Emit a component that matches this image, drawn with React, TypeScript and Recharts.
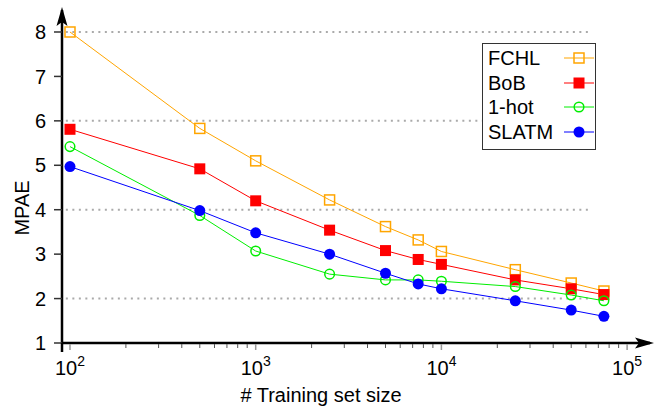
import React from 'react';
import {
  Label,
  Legend,
  Line,
  LineChart,
  ReferenceLine,
  XAxis,
  YAxis
} from 'recharts';

// training set sizes
const sizes = [100, 500, 1000, 2500, 5000, 7500, 10000, 25000, 50000, 75000];

// MPAE per representation
const fchl = [8.0, 5.83, 5.1, 4.22, 3.62, 3.32, 3.06, 2.65, 2.35, 2.17];
const bob = [5.81, 4.92, 4.2, 3.54, 3.08, 2.88, 2.77, 2.42, 2.22, 2.09];
const oneHot = [5.42, 3.87, 3.07, 2.55, 2.42, 2.42, 2.39, 2.27, 2.08, 1.95];
const slatm = [4.97, 3.98, 3.48, 3.0, 2.57, 2.33, 2.22, 1.95, 1.74, 1.6];

const majorTicks = [100, 1000, 10000, 100000];
const minorTicks = [2, 3, 4, 5, 6, 7, 8, 9].flatMap((m) => [100 * m, 1000 * m, 10000 * m]);
const xTicks = [...majorTicks, ...minorTicks].sort((a, b) => a - b);
const yTicks = [1, 2, 3, 4, 5, 6, 7, 8];
const gridValues = [2, 4, 6, 8];

const FONT = '"Liberation Sans", Arial, sans-serif';

const data = sizes.map((n, i) => ({
  n,
  fchl: fchl[i],
  bob: bob[i],
  oneHot: oneHot[i],
  slatm: slatm[i]
}));

const series = [
  { key: 'fchl', name: 'FCHL', color: '#ffa500', shape: 'openSquare' },
  { key: 'bob', name: 'BoB', color: '#ff0000', shape: 'square' },
  { key: 'oneHot', name: '1-hot', color: '#00ee00', shape: 'openCircle' },
  { key: 'slatm', name: 'SLATM', color: '#0000ff', shape: 'circle' }
];

const marker = (shape: string, color: string, cx: number, cy: number, key?: any) => {
  switch (shape) {
    case 'openSquare':
      return <rect key={key} x={cx - 5} y={cy - 5} width={10} height={10} fill="none" stroke={color} strokeWidth={1.5} />;
    case 'square':
      return <rect key={key} x={cx - 5.5} y={cy - 5.5} width={11} height={11} fill={color} />;
    case 'openCircle':
      return <circle key={key} cx={cx} cy={cy} r={4.8} fill="none" stroke={color} strokeWidth={1.5} />;
    default:
      return <circle key={key} cx={cx} cy={cy} r={5.5} fill={color} />;
  }
};

const XTick = (props: any) => {
  const { x, y, payload } = props;
  const v = payload.value;
  const major = majorTicks.includes(v);
  if (!major) {
    return <line x1={x} y1={y + 1} x2={x} y2={y + 5} stroke="#555" strokeWidth={1} />;
  }
  const exp = Math.round(Math.log10(v));
  return (
    <g>
      <line x1={x} y1={y + 1} x2={x} y2={y + 7} stroke="#999" strokeWidth={1.5} />
      <text x={x} y={y + 32} textAnchor="middle" fontFamily={FONT} fontSize={20} fill="#000">
        10
        <tspan dy={-9} fontSize={14}>{exp}</tspan>
      </text>
    </g>
  );
};

const YTick = (props: any) => {
  const { x, y, payload } = props;
  return (
    <g>
      <line x1={x - 8} y1={y} x2={x} y2={y} stroke="#333" strokeWidth={1.5} />
      <text x={x - 16} y={y} dy="0.36em" textAnchor="end" fontFamily={FONT} fontSize={20} fill="#000">
        {payload.value}
      </text>
    </g>
  );
};

const LegendBox = () => (
  <div
    style={{
      width: 114,
      height: 107,
      border: '1.2px solid #333',
      background: '#fff',
      fontFamily: FONT,
      fontSize: 20,
      boxSizing: 'border-box',
      paddingTop: 2
    }}
  >
    {series.map((s) => (
      <div key={s.key} style={{ display: 'flex', alignItems: 'center', height: 24.5, paddingLeft: 5 }}>
        <span style={{ width: 76, lineHeight: '20px' }}>{s.name}</span>
        <svg width={32} height={14}>
          <line x1={1} y1={7} x2={31} y2={7} stroke={s.color} strokeWidth={1} />
          {marker(s.shape, s.color, 16, 7)}
        </svg>
      </div>
    ))}
  </div>
);

const App: React.FC = () => {
  return (
    <div style={{ position: 'absolute', top: 0, left: 0, width: 654, height: 407, background: '#fff' }}>
      <LineChart width={654} height={407} data={data} margin={{ top: 10, right: 4, left: 0, bottom: 0 }}>
        {gridValues.map((g) => (
          <ReferenceLine
            key={g}
            segment={[{ x: 95, y: g }, { x: 63000, y: g }]}
            stroke="#aaa"
            strokeWidth={2}
            strokeDasharray="2 4.5"
          />
        ))}
        <XAxis
          dataKey="n"
          type="number"
          scale="log"
          domain={[90.57, 132820]}
          allowDataOverflow
          ticks={xTicks}
          interval={0}
          tick={<XTick />}
          tickLine={false}
          tickSize={0}
          tickMargin={0}
          height={64}
          axisLine={{ stroke: '#000', strokeWidth: 2.5 }}
        >
          <Label
            content={() => (
              <text x={321} y={402} textAnchor="middle" fontFamily={FONT} fontSize={20} fill="#000">
                # Training set size
              </text>
            )}
          />
        </XAxis>
        <YAxis
          type="number"
          domain={[1, 8.495]}
          allowDataOverflow
          ticks={yTicks}
          interval={0}
          tick={<YTick />}
          tickLine={false}
          tickSize={0}
          tickMargin={0}
          width={62}
          axisLine={{ stroke: '#000', strokeWidth: 2.5 }}
        >
          <Label
            content={() => (
              <text
                x={22}
                y={208}
                transform="rotate(-90 22 208)"
                textAnchor="middle"
                dominantBaseline="central"
                fontFamily={FONT}
                fontSize={20}
                fill="#000"
              >
                MPAE
              </text>
            )}
          />
        </YAxis>
        {series.map((s) => (
          <Line
            key={s.key}
            dataKey={s.key}
            name={s.name}
            type="linear"
            stroke={s.color}
            strokeWidth={1}
            isAnimationActive={false}
            dot={(p: any) => marker(s.shape, s.color, p.cx, p.cy, p.key ?? `${s.key}-${p.index}`)}
            activeDot={false}
          />
        ))}
        <Legend
          layout="vertical"
          align="center"
          verticalAlign="middle"
          content={() => <LegendBox />}
          wrapperStyle={{ position: 'absolute', top: 43, left: 482, width: 'auto', height: 'auto' }}
        />
      </LineChart>
      <svg
        width={654}
        height={407}
        style={{ position: 'absolute', top: 0, left: 0, pointerEvents: 'none' }}
      >
        <line x1={62} y1={343} x2={62} y2={352} stroke="#000" strokeWidth={2.5} />
        <polygon points="62,7 56.5,26 62,22 67.5,26" fill="#000" />
        <polygon points="654,343 635,337.5 639,343 635,348.5" fill="#000" />
      </svg>
    </div>
  );
};

export default App;
